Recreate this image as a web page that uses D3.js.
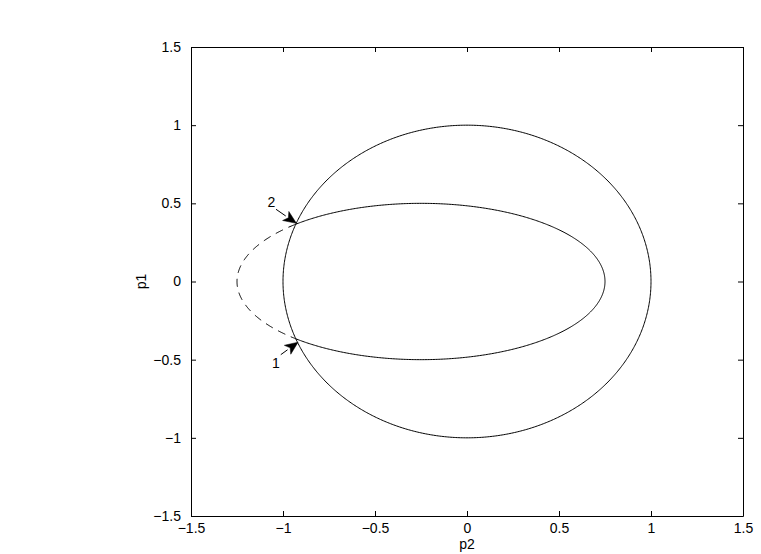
<!DOCTYPE html>
<html>
<head>
<meta charset="utf-8">
<script src="https://cdn.jsdelivr.net/npm/d3@7"></script>
<style>
  html, body { margin: 0; padding: 0; background: #fff; }
  svg { display: block; }
  text { font-family: "Liberation Sans", Arial, Helvetica, sans-serif; font-size: 14px; fill: #000; }
</style>
</head>
<body>
<svg id="chart" width="761" height="554"></svg>
<script>
// ---- data ----
const xTicks = [-1.5, -1, -0.5, 0, 0.5, 1, 1.5];
const yTicks = [-1.5, -1, -0.5, 0, 0.5, 1, 1.5];
const xLabel = "p2";
const yLabel = "p1";

// closed curves: circle and ellipse (center, semi-axes)
const curveNames = ["circle", "ellipse"];
const curveCenterX = [0, -0.25];
const curveCenterY = [0, 0];
const curveRadiusX = [1, 1];
const curveRadiusY = [1, 0.5];
// parameter range (degrees) of the ellipse drawn dashed (outside the circle)
const dashedFromDeg = [null, 132.9];
const dashedToDeg = [null, 227.1];

// annotated intersection arrows
const arrowLabels = ["1", "2"];
const arrowTipX = [-0.918, -0.927];
const arrowTipY = [-0.388, 0.372];
const arrowTailX = [-1.012, -1.038];
const arrowTailY = [-0.468, 0.462];
const labelX = [-1.038, -1.063];
const labelY = [-0.52, 0.51];

// ---- layout ----
const svg = d3.select("#chart");
const L = 191, R = 743, T = 47, B = 516;
const x = d3.scaleLinear().domain([-1.5, 1.5]).range([L, R]);
const y = d3.scaleLinear().domain([-1.5, 1.5]).range([B, T]);
const fmt = v => (v < 0 ? "\u2212" : "") + Math.abs(v);

// axes
const axB = d3.axisBottom(x).tickValues(xTicks).tickSizeInner(-5).tickSizeOuter(0).tickPadding(7).tickFormat(fmt);
const axT = d3.axisTop(x).tickValues(xTicks).tickSizeInner(-5).tickSizeOuter(0).tickFormat("");
const axL = d3.axisLeft(y).tickValues(yTicks).tickSizeInner(-5).tickSizeOuter(0).tickPadding(10).tickFormat(fmt);
const axR = d3.axisRight(y).tickValues(yTicks).tickSizeInner(-5).tickSizeOuter(0).tickFormat("");

function styleAxis(g) {
  g.select(".domain").attr("stroke", "#000").attr("stroke-width", 1);
  g.selectAll(".tick line").attr("stroke", "#000");
  g.selectAll(".tick text").attr("font-size", 14).attr("font-family", "Liberation Sans, Arial, sans-serif");
}
svg.append("g").attr("transform", `translate(0,${B})`).call(axB).call(styleAxis);
svg.append("g").attr("transform", `translate(0,${T})`).call(axT).call(styleAxis);
svg.append("g").attr("transform", `translate(${L},0)`).call(axL).call(styleAxis);
svg.append("g").attr("transform", `translate(${R},0)`).call(axR).call(styleAxis);
svg.selectAll(".tick text").attr("fill", "#000");

// axis labels
svg.append("text").attr("x", (L + R) / 2).attr("y", 549).attr("text-anchor", "middle").text(xLabel);
svg.append("text").attr("transform", `translate(146,${(T + B) / 2}) rotate(-90)`).attr("text-anchor", "middle").text(yLabel);

// curves
const plot = svg.append("g");
const line = d3.line().x(d => x(d[0])).y(d => y(d[1]));
function arc(i, fromDeg, toDeg) {
  const pts = [];
  const n = Math.max(2, Math.ceil(Math.abs(toDeg - fromDeg) * 2));
  for (let k = 0; k <= n; k++) {
    const t = (fromDeg + (toDeg - fromDeg) * k / n) * Math.PI / 180;
    pts.push([curveCenterX[i] + curveRadiusX[i] * Math.cos(t), curveCenterY[i] + curveRadiusY[i] * Math.sin(t)]);
  }
  return pts;
}
curveNames.forEach((name, i) => {
  if (dashedFromDeg[i] == null) {
    plot.append("path").attr("d", line(arc(i, 0, 360))).attr("fill", "none").attr("stroke", "#000").attr("stroke-width", 1);
  } else {
    plot.append("path").attr("d", line(arc(i, dashedToDeg[i] - 360, dashedFromDeg[i])))
      .attr("fill", "none").attr("stroke", "#000").attr("stroke-width", 1);
    plot.append("path").attr("d", line(arc(i, dashedFromDeg[i], dashedToDeg[i])))
      .attr("fill", "none").attr("stroke", "#000").attr("stroke-width", 1).attr("stroke-dasharray", "8,6");
  }
});

// arrows
arrowLabels.forEach((lab, i) => {
  const x1 = x(arrowTailX[i]), y1 = y(arrowTailY[i]);
  const x2 = x(arrowTipX[i]), y2 = y(arrowTipY[i]);
  const ang = Math.atan2(y2 - y1, x2 - x1);
  const hl = 13, hw = 5.5;
  const bx = x2 - hl * Math.cos(ang), by = y2 - hl * Math.sin(ang);
  const nx = -Math.sin(ang), ny = Math.cos(ang);
  plot.append("line").attr("x1", x1).attr("y1", y1).attr("x2", bx).attr("y2", by).attr("stroke", "#000").attr("stroke-width", 1);
  const mx = x2 - hl * 0.75 * Math.cos(ang), my = y2 - hl * 0.75 * Math.sin(ang);
  plot.append("path")
    .attr("d", `M${x2},${y2}L${bx + nx * hw},${by + ny * hw}L${mx},${my}L${bx - nx * hw},${by - ny * hw}Z`)
    .attr("fill", "#000").attr("stroke", "#000").attr("stroke-width", 0.5);
  plot.append("text").attr("x", x(labelX[i])).attr("y", y(labelY[i])).attr("text-anchor", "middle")
    .attr("dominant-baseline", "central").text(lab);
});
</script>
</body>
</html>
